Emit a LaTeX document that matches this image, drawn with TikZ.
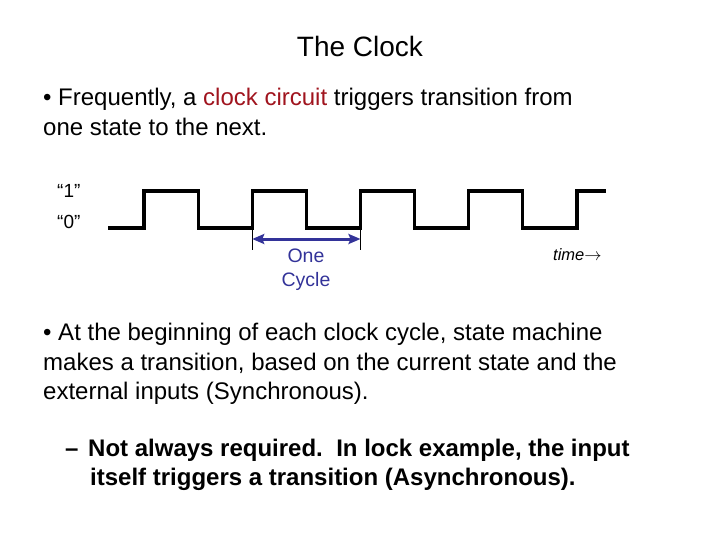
\documentclass[tikz,border=0pt]{standalone}
\usepackage{fontspec}
\usetikzlibrary{arrows.meta}
\setmainfont{Liberation Sans}
\definecolor{clockred}{RGB}{160,20,30}
\definecolor{cyclenavy}{RGB}{51,51,153}
\begin{document}
\begin{tikzpicture}[x=1pt, y=-1pt, line join=round, >={Stealth[length=12pt,width=10pt,inset=2pt]},
  txt/.style={inner sep=0pt, anchor=base west, align=left},
  wave/.style={line width=3.2pt, line join=miter}]
\useasboundingbox (0,0) rectangle (720,540);
\def\p{108.25} \def\h{54.1}
\def\lo{228} \def\hi{191}
\node[inner sep=0pt, anchor=base, font=\fontsize{28}{33}\selectfont] (title) at (360,57) {The Clock};
\node[txt, font=\fontsize{24}{30}\selectfont] (para1) at (43,135.7)
  {\textbullet\ Frequently, a \textcolor{clockred}{clock circuit} triggers transition from\\one state to the next.};
% clock signal
\node[txt, font=\fontsize{19}{20}\selectfont] (one) at (57,197) {“1”};
\node[txt, font=\fontsize{19}{20}\selectfont] (zero) at (57,228.5) {“0”};
\draw[wave] (108,\lo) -- (144,\lo) foreach \i in {0,...,3}{ |- ({144+\i*\p+\h},\hi) |- ({144+(\i+1)*\p},\lo) } |- (606,\hi);
\coordinate (t1) at ({144+\p},226);
\coordinate (t2) at ({144+2*\p},226);
\draw[thin] (t1) -- ++(0,24) (t2) -- ++(0,24);
\draw[<->, cyclenavy, line width=3pt] ([yshift=-13pt]t1) -- ([yshift=-13pt]t2);
\node[inner sep=0pt, anchor=base, align=center, text=cyclenavy, font=\fontsize{19.5}{24}\selectfont] (cycle) at (306,286.5) {One\\Cycle};
\node[txt, font=\fontsize{16.5}{20}\selectfont\itshape] (time) at (553,260.5) {time{\fontsize{16}{16}\selectfont$\rightarrow$}};
\node[txt, font=\fontsize{24}{29.5}\selectfont] (para2) at (43,399.7)
  {\textbullet\ At the beginning of each clock cycle, state machine\\makes a transition, based on the current state and the\\external inputs (Synchronous).};
\node[txt, font=\fontsize{24}{29}\selectfont\bfseries] (note) at (65,485)
  {\makebox[23pt][l]{–}Not always required.\ \ In lock example, the input\\\hspace*{25pt}itself triggers a transition (Asynchronous).};
\end{tikzpicture}
\end{document}
